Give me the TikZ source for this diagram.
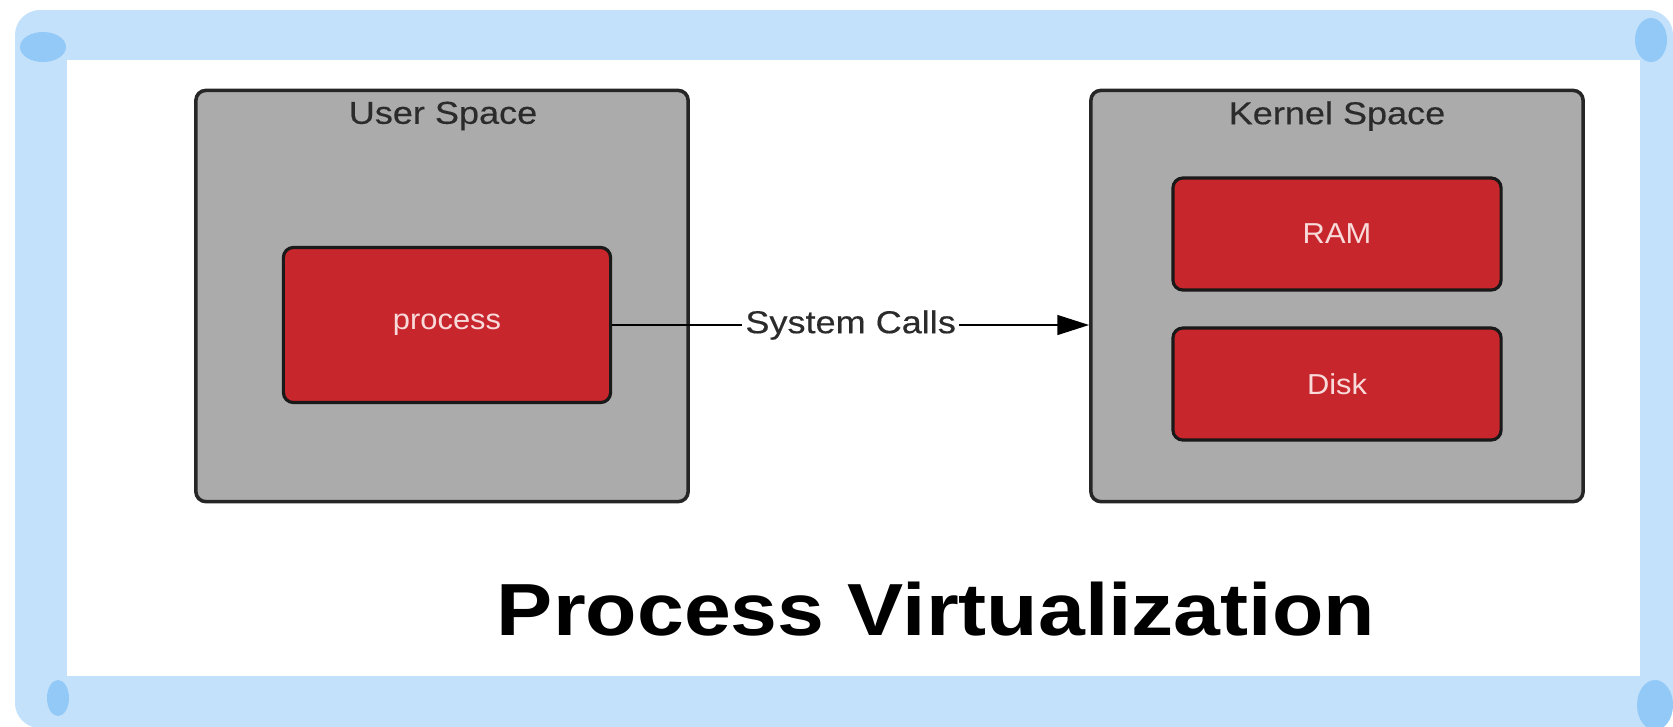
\documentclass[tikz,border=0pt]{standalone}
\usepackage{fontspec}
\setmainfont{Liberation Sans}[FakeStretch=1.07]
\newfontfamily\labelfont{Liberation Sans}[FakeStretch=1.14, FakeBold=0.35]
\newfontfamily\titlefont{Liberation Sans}[FakeStretch=1.14]
\usepackage{tikz}
\usetikzlibrary{positioning, arrows.meta}
\usepackage{xcolor}
\definecolor{framebg}{HTML}{C3E1FB}
\definecolor{blob}{HTML}{93C9F7}
\definecolor{spacegray}{HTML}{ABABAB}
\definecolor{partred}{HTML}{C8262D}
\definecolor{parttext}{HTML}{F8DADA}
\definecolor{labeltext}{HTML}{2B2B2B}

\begin{document}
\begin{tikzpicture}[x=0.01cm, y=-0.01cm,
  space/.style={draw=black!85, fill=spacegray, line width=1pt, rounded corners=0.1cm,
    minimum width=4.92cm, minimum height=4.11cm, inner sep=0pt},
  part/.style={draw=black!90, fill=partred, line width=0.9pt, rounded corners=0.1cm,
    minimum width=3.27cm, text=parttext, font=\fontsize{8.2}{10}\selectfont},
  spacelabel/.style={text=labeltext, font=\labelfont\fontsize{9}{11}\selectfont, inner sep=0pt},
  call/.style={line width=0.6pt, -{Triangle[length=9pt, width=5.6pt]}}]
  \useasboundingbox (0,0) rectangle (1673,726);

  % Frame
  \fill[framebg, rounded corners=0.25cm] (15,10) rectangle (1673,728);
  \fill[white] (67,60) rectangle (1640,676);
  \fill[blob] (43,47) ellipse [x radius=0.23cm, y radius=0.15cm];
  \fill[blob] (1651,40) ellipse [x radius=0.16cm, y radius=0.22cm];
  \fill[blob] (1655,705) ellipse [x radius=0.18cm, y radius=0.25cm];
  \fill[blob] (58,698) ellipse [x radius=0.11cm, y radius=0.18cm];

  % Spaces
  \node[space] (user) at (442,296) {};
  \node[space] (kern) at (1337,296) {};
  \node[spacelabel] (userlbl) at (443,116) {User Space};
  \node[spacelabel] (kernlbl) at (1337,116) {Kernel Space};

  % Parts
  \node[part, minimum height=1.55cm] (proc) at (447,325) {process};
  \node[part, minimum height=1.12cm, minimum width=3.28cm] (ram) at (1337,234) {RAM};
  \node[part, minimum height=1.12cm, minimum width=3.28cm] (disk) at (1337,384) {Disk};

  \draw[call] (proc.east) -- (proc.east -| kern.west)
    node[midway, fill=white, inner sep=1pt, text=labeltext,
      font=\labelfont\fontsize{9}{11}\selectfont] (calls) {System Calls};

  % Title
  \node[anchor=base, inner sep=0pt, font=\titlefont\bfseries\fontsize{21}{25}\selectfont]
    (title) at (936,635) {Process Virtualization};
\end{tikzpicture}
\end{document}
